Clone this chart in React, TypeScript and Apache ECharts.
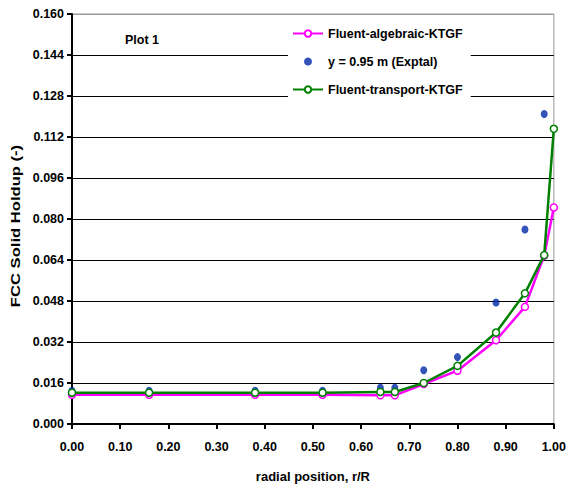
import React, { useEffect, useRef } from "react";
import * as echarts from "echarts";

const radialPositions = [0, 0.16, 0.38, 0.52, 0.64, 0.67, 0.73, 0.8, 0.88, 0.94, 0.98, 1.0];
const algebraicKTGF = [0.0114, 0.0114, 0.0114, 0.0114, 0.0112, 0.0112, 0.0156, 0.0208, 0.0327, 0.0457, 0.0657, 0.0845];
const transportKTGF = [0.0122, 0.0122, 0.0122, 0.0122, 0.0125, 0.0125, 0.016, 0.0227, 0.0357, 0.051, 0.0659, 0.1152];
const exptalPositions = [0, 0.16, 0.38, 0.52, 0.64, 0.67, 0.73, 0.8, 0.88, 0.94, 0.98];
const exptalValues = [0.013, 0.013, 0.013, 0.013, 0.0142, 0.0142, 0.021, 0.0261, 0.0474, 0.0759, 0.121];

const seriesNames = ["Fluent-algebraic-KTGF", "y = 0.95 m (Exptal)", "Fluent-transport-KTGF"];
const yTitle = "FCC Solid Holdup (-)";
const xTitle = "radial position, r/R";

const FONT = "'Liberation Sans', Arial, sans-serif";

export default function App() {
  const ref = useRef<HTMLDivElement>(null);
  useEffect(() => {
    if (!ref.current) return;
    const chart = echarts.init(ref.current, undefined, { renderer: "svg" });
    const splitColors = ["#000", "#000", "#000", "#000", "#000", "#000", "#000", "#000", "#000", "#000", "#999"];
    chart.setOption({
      animation: false,
      backgroundColor: "#fff",
      textStyle: { fontFamily: FONT },
      grid: {
        left: 72,
        right: 12,
        top: 14,
        bottom: 63,
        show: true,
        borderColor: "#999",
        borderWidth: 1,
        backgroundColor: "transparent",
      },
      xAxis: {
        type: "value",
        min: 0,
        max: 1,
        interval: 0.1,
        name: xTitle,
        nameLocation: "middle",
        nameGap: 46,
        nameTextStyle: { fontFamily: FONT, fontWeight: "bold", fontSize: 13, color: "#000" },
        axisLine: { show: true, lineStyle: { color: "#000", width: 2 } },
        axisTick: { show: true, inside: false, length: 5, lineStyle: { color: "#000", width: 2 } },
        axisLabel: {
          color: "#000",
          fontWeight: "bold",
          fontSize: 12.5,
          fontFamily: FONT,
          margin: 16,
          formatter: (v: number) => v.toFixed(2),
        },
        splitLine: { show: false },
      },
      yAxis: {
        type: "value",
        min: 0,
        max: 0.16,
        interval: 0.016,
        axisLine: { show: true, lineStyle: { color: "#000", width: 2 } },
        axisTick: { show: true, inside: false, length: 5, lineStyle: { color: "#000", width: 2 } },
        axisLabel: {
          color: "#000",
          fontWeight: "bold",
          fontSize: 12.5,
          fontFamily: FONT,
          margin: 8,
          formatter: (v: number) => v.toFixed(3),
        },
        splitLine: { show: true, lineStyle: { color: splitColors, width: 1.2 } },
      },
      legend: {
        orient: "vertical",
        left: 288,
        top: 22,
        data: seriesNames,
        backgroundColor: "#fff",
        padding: [5, 8, 5, 4],
        itemWidth: 30,
        itemHeight: 8,
        itemGap: 15,
        textStyle: { fontFamily: FONT, fontWeight: "bold", fontSize: 12.5, color: "#000" },
      },
      graphic: [
        {
          type: "text",
          left: 125,
          top: 33,
          style: { text: "Plot 1", font: `bold 12.5px ${FONT}`, fill: "#000" },
        },
        {
          type: "text",
          x: 16,
          y: 226,
          rotation: Math.PI / 2,
          scaleX: 1.33,
          style: {
            text: yTitle,
            font: `bold 12.5px ${FONT}`,
            fill: "#000",
            align: "center",
            verticalAlign: "middle",
            textAlign: "center",
            textVerticalAlign: "middle",
          },
        },
      ],
      series: [
        {
          name: seriesNames[1],
          type: "scatter",
          data: exptalPositions.map((x, i) => [x, exptalValues[i]]),
          symbol: "circle",
          symbolSize: [7, 8],
          itemStyle: { color: "#0028a8" },
          z: 2,
        },
        {
          name: seriesNames[0],
          type: "line",
          data: radialPositions.map((x, i) => [x, algebraicKTGF[i]]),
          symbol: "circle",
          symbolSize: 7,
          showAllSymbol: true,
          lineStyle: { color: "#ff00ff", width: 2.5 },
          itemStyle: { color: "#fff", borderColor: "#ff00ff", borderWidth: 1.5 },
          z: 3,
        },
        {
          name: seriesNames[2],
          type: "line",
          data: radialPositions.map((x, i) => [x, transportKTGF[i]]),
          symbol: "circle",
          symbolSize: 7,
          showAllSymbol: true,
          lineStyle: { color: "#008000", width: 2.5 },
          itemStyle: { color: "#fff", borderColor: "#008000", borderWidth: 1.5 },
          z: 4,
        },
      ],
    });
    return () => chart.dispose();
  }, []);
  return (
    <div
      ref={ref}
      style={{ position: "fixed", left: 0, top: 0, width: 569, height: 488 }}
    />
  );
}
